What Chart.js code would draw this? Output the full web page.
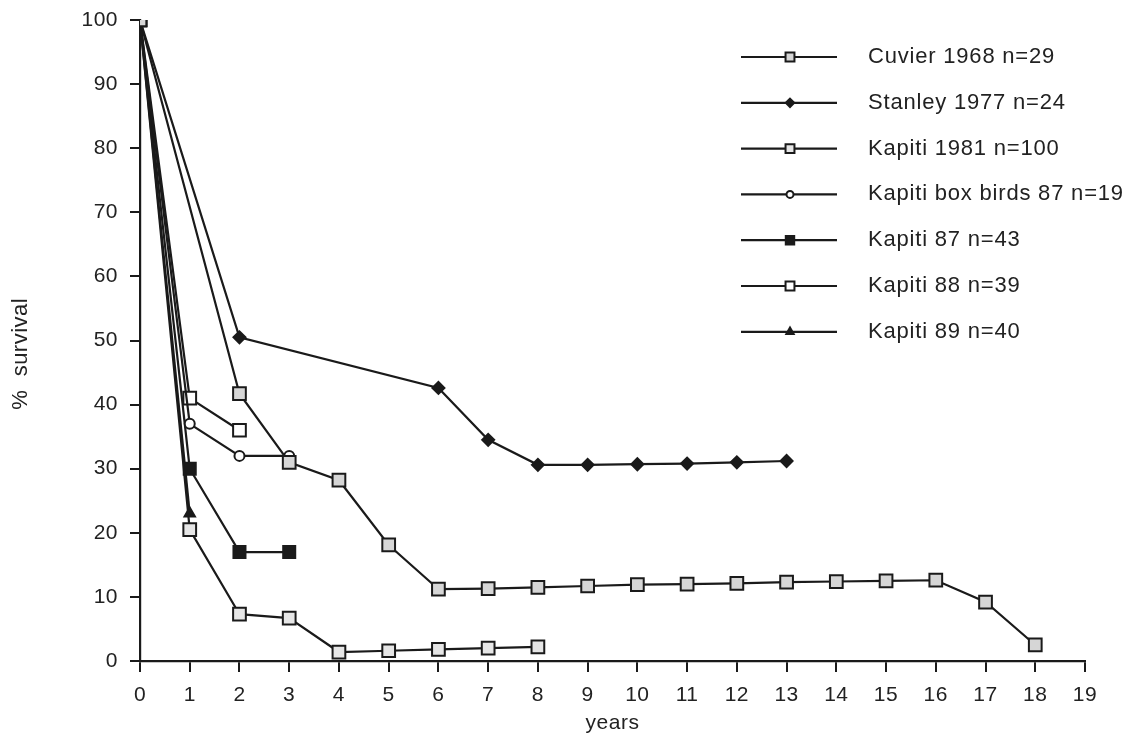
<!DOCTYPE html>
<html>
<head>
<meta charset="utf-8">
<script src="https://cdn.jsdelivr.net/npm/chart.js@4/dist/chart.umd.min.js"></script>
<style>
  html, body { margin: 0; padding: 0; background: #fff; }
  #wrap { width: 1137px; height: 740px; position: relative; }
</style>
</head>
<body>
<div id="wrap"><canvas id="survival"></canvas></div>
<script>
// ── Data ───────────────────────────────────────────────────
const xTicks = [0,1,2,3,4,5,6,7,8,9,10,11,12,13,14,15,16,17,18,19];
const yTicks = [0,10,20,30,40,50,60,70,80,90,100];

const cuvierYears  = [0,2,3,4,5,6,7,8,9,10,11,12,13,14,15,16,17,18];
const cuvierVals   = [100,41.7,31,28.2,18.1,11.2,11.3,11.5,11.7,11.9,12,12.1,12.3,12.4,12.5,12.6,9.2,2.5];

const stanleyYears = [0,2,6,7,8,9,10,11,12,13];
const stanleyVals  = [100,50.5,42.6,34.5,30.6,30.6,30.7,30.8,31,31.2];

const k81Years = [0,1,2,3,4,5,6,7,8];
const k81Vals  = [100,20.5,7.3,6.7,1.4,1.6,1.8,2,2.2];

const boxYears = [0,1,2,3];
const boxVals  = [100,37,32,32];

const k87Years = [0,1,2,3];
const k87Vals  = [100,30,17,17];

const k88Years = [0,1,2];
const k88Vals  = [100,41,36];

const k89Years = [0,1];
const k89Vals  = [100,23];

const seriesNames = [
  'Cuvier 1968 n=29',
  'Stanley 1977 n=24',
  'Kapiti 1981 n=100',
  'Kapiti box birds 87 n=19',
  'Kapiti 87 n=43',
  'Kapiti 88 n=39',
  'Kapiti 89 n=40',
];

// ── Style ──────────────────────────────────────────────────
const INK  = '#1a1a1a';
const TEXT = '#222222';
const FONT = "'Liberation Sans', Arial, sans-serif";

function pts(xs, ys) {
  return xs.map((x, i) => ({ x, y: ys[i] }));
}

function series(label, xs, ys, style, radius, fill) {
  return {
    label,
    data: pts(xs, ys),
    borderColor: INK,
    borderWidth: 2.2,
    pointStyle: style,
    pointRadius: radius,
    pointHoverRadius: radius,
    pointBackgroundColor: fill,
    pointBorderColor: INK,
    pointBorderWidth: 2,
    tension: 0,
    fill: false,
  };
}

const datasets = [
  series(seriesNames[0], cuvierYears, cuvierVals, 'rect', 9, '#d6d6d6'),
  series(seriesNames[1], stanleyYears, stanleyVals, 'rectRot', 6, INK),
  series(seriesNames[2], k81Years, k81Vals, 'rect', 9, '#e6e6e6'),
  series(seriesNames[3], boxYears, boxVals, 'circle', 5, '#ffffff'),
  series(seriesNames[4], k87Years, k87Vals, 'rect', 8.5, INK),
  series(seriesNames[5], k88Years, k88Vals, 'rect', 9, '#ffffff'),
  series(seriesNames[6], k89Years, k89Vals, 'triangle', 6, INK),
];

// Slightly wider type, like the old scanned Helvetica
const spacing = {
  id: 'spacing',
  beforeUpdate(chart) { chart.ctx.letterSpacing = '0.5px'; },
};

// Legend drawn on canvas, top right, one row per series
function drawMarker(ctx, style, x, y, r, fill) {
  ctx.save();
  ctx.fillStyle = fill;
  ctx.strokeStyle = INK;
  ctx.lineWidth = 2;
  ctx.beginPath();
  if (style === 'rect') {
    const s = r * Math.SQRT1_2;
    ctx.rect(x - s, y - s, 2 * s, 2 * s);
  } else if (style === 'rectRot') {
    ctx.moveTo(x, y - r); ctx.lineTo(x + r, y); ctx.lineTo(x, y + r); ctx.lineTo(x - r, y);
    ctx.closePath();
  } else if (style === 'triangle') {
    ctx.moveTo(x, y - r); ctx.lineTo(x + r * 0.87, y + r * 0.5); ctx.lineTo(x - r * 0.87, y + r * 0.5);
    ctx.closePath();
  } else {
    ctx.arc(x, y, r, 0, Math.PI * 2);
  }
  ctx.fill();
  ctx.stroke();
  ctx.restore();
}

const sideLegend = {
  id: 'sideLegend',
  afterDraw(chart) {
    const ctx = chart.ctx;
    const top = 57, step = 45.8;
    chart.data.datasets.forEach((ds, i) => {
      const y = top + i * step;
      ctx.save();
      ctx.strokeStyle = INK;
      ctx.lineWidth = 2.2;
      ctx.beginPath();
      ctx.moveTo(741, y);
      ctx.lineTo(837, y);
      ctx.stroke();
      ctx.restore();
      drawMarker(ctx, ds.pointStyle, 790, y, ds.pointRadius * 0.7, ds.pointBackgroundColor);
      ctx.save();
      ctx.fillStyle = TEXT;
      ctx.font = '22px ' + FONT;
      ctx.letterSpacing = '0.8px';
      ctx.textBaseline = 'middle';
      ctx.fillText(ds.label, 868, y);
      ctx.restore();
    });
  },
};

new Chart(document.getElementById('survival'), {
  type: 'line',
  data: { datasets },
  options: {
    responsive: true,
    maintainAspectRatio: false,
    animation: false,
    layout: { padding: { top: 20, right: 52, left: 0, bottom: 0 } },
    plugins: {
      legend: { display: false },
      tooltip: { enabled: false },
    },
    scales: {
      x: {
        type: 'linear',
        min: 0,
        max: 19,
        afterBuildTicks: (s) => { s.ticks = xTicks.map(v => ({ value: v })); },
        afterFit: (s) => { s.height = 79; },
        grid: { drawOnChartArea: false, drawTicks: true, tickLength: 11, color: INK, lineWidth: 2 },
        border: { display: true, color: INK, width: 2.2 },
        ticks: { color: TEXT, font: { family: FONT, size: 21 }, padding: 11, maxRotation: 0, autoSkip: false },
        title: { display: true, text: 'years', color: TEXT, font: { family: FONT, size: 21 }, padding: { top: 0, bottom: 4 } },
      },
      y: {
        min: 0,
        max: 100,
        afterBuildTicks: (s) => { s.ticks = yTicks.map(v => ({ value: v })); },
        afterFit: (s) => { s.width = 140; s.paddingTop = 0; },
        grid: { drawOnChartArea: false, drawTicks: true, tickLength: 10, color: INK, lineWidth: 2 },
        border: { display: true, color: INK, width: 2.2 },
        ticks: { color: TEXT, font: { family: FONT, size: 21 }, padding: 12 },
        // trailing spaces nudge the rotated title a little lower, as in the scan
        title: { display: true, text: '%  survival    ', color: TEXT, font: { family: FONT, size: 22 }, padding: { top: 8, bottom: 10 } },
      },
    },
  },
  plugins: [spacing, sideLegend],
});
</script>
</body>
</html>
